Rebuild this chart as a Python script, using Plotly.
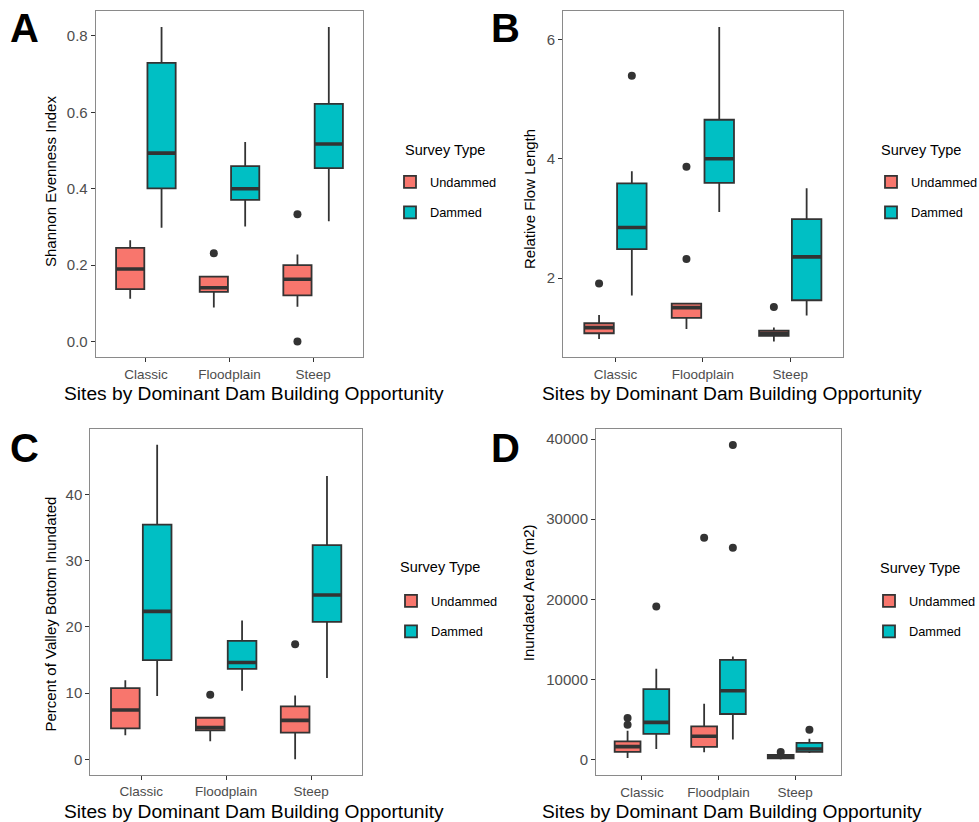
import plotly.graph_objects as go

# ---------------------------------------------------------------- data
CATEGORIES = ["Classic", "Floodplain", "Steep"]
SERIES = ["Undammed", "Dammed"]
COLORS = {"Undammed": "#F8766D", "Dammed": "#00BFC4"}

# A: Shannon evenness
A_UND_LOW = [0.112, 0.089, 0.091]
A_UND_Q1 = [0.137, 0.130, 0.121]
A_UND_MED = [0.190, 0.141, 0.163]
A_UND_Q3 = [0.245, 0.170, 0.200]
A_UND_HIGH = [0.265, 0.170, 0.228]
A_UND_OUT = [[], [0.231], [0.333, 0.0]]
A_DAM_LOW = [0.298, 0.301, 0.315]
A_DAM_Q1 = [0.401, 0.371, 0.454]
A_DAM_MED = [0.493, 0.400, 0.517]
A_DAM_Q3 = [0.729, 0.459, 0.622]
A_DAM_HIGH = [0.823, 0.522, 0.823]
A_DAM_OUT = [[], [], []]

# B: relative flow length
B_UND_LOW = [0.983, 1.150, 0.939]
B_UND_Q1 = [1.078, 1.335, 1.034]
B_UND_MED = [1.173, 1.508, 1.078]
B_UND_Q3 = [1.246, 1.575, 1.123]
B_UND_HIGH = [1.385, 1.575, 1.173]
B_UND_OUT = [[1.91], [3.866, 2.324], [1.52]]
B_DAM_LOW = [1.71, 3.11, 1.374]
B_DAM_Q1 = [2.486, 3.598, 1.631]
B_DAM_MED = [2.849, 4.0, 2.358]
B_DAM_Q3 = [3.587, 4.654, 2.989]
B_DAM_HIGH = [3.79, 6.207, 3.508]
B_DAM_OUT = [[5.39], [], []]

# C: percent of valley bottom inundated
C_UND_LOW = [3.61, 2.71, 0.0]
C_UND_Q1 = [4.67, 4.37, 4.02]
C_UND_MED = [7.43, 4.77, 5.87]
C_UND_Q3 = [10.74, 6.27, 7.98]
C_UND_HIGH = [11.94, 6.27, 9.64]
C_UND_OUT = [[], [9.74], [17.37]]
C_DAM_LOW = [9.54, 10.34, 12.25]
C_DAM_Q1 = [14.96, 13.65, 20.73]
C_DAM_MED = [22.33, 14.6, 24.79]
C_DAM_Q3 = [35.43, 17.87, 32.32]
C_DAM_HIGH = [47.48, 20.93, 42.76]
C_DAM_OUT = [[], [], []]

# D: inundated area (m2)
D_UND_LOW = [207, 913, 0]
D_UND_Q1 = [954, 1577, 166]
D_UND_MED = [1618, 2905, 373]
D_UND_Q3 = [2282, 4149, 581]
D_UND_HIGH = [3600, 6971, 700]
D_UND_OUT = [[4357, 5187], [27676], [954]]
D_DAM_LOW = [1328, 2490, 830]
D_DAM_Q1 = [3195, 5685, 954]
D_DAM_MED = [4647, 8589, 1328]
D_DAM_Q3 = [8797, 12448, 2075]
D_DAM_HIGH = [11328, 12863, 2614]
D_DAM_OUT = [[19087], [39253, 26432], [3734]]

PANELS = [
    dict(letter="A", ytitle="Shannon Evenness Index",
         und=(A_UND_LOW, A_UND_Q1, A_UND_MED, A_UND_Q3, A_UND_HIGH, A_UND_OUT),
         dam=(A_DAM_LOW, A_DAM_Q1, A_DAM_MED, A_DAM_Q3, A_DAM_HIGH, A_DAM_OUT)),
    dict(letter="B", ytitle="Relative Flow Length",
         und=(B_UND_LOW, B_UND_Q1, B_UND_MED, B_UND_Q3, B_UND_HIGH, B_UND_OUT),
         dam=(B_DAM_LOW, B_DAM_Q1, B_DAM_MED, B_DAM_Q3, B_DAM_HIGH, B_DAM_OUT)),
    dict(letter="C", ytitle="Percent of Valley Bottom Inundated",
         und=(C_UND_LOW, C_UND_Q1, C_UND_MED, C_UND_Q3, C_UND_HIGH, C_UND_OUT),
         dam=(C_DAM_LOW, C_DAM_Q1, C_DAM_MED, C_DAM_Q3, C_DAM_HIGH, C_DAM_OUT)),
    dict(letter="D", ytitle="Inundated Area (m2)",
         und=(D_UND_LOW, D_UND_Q1, D_UND_MED, D_UND_Q3, D_UND_HIGH, D_UND_OUT),
         dam=(D_DAM_LOW, D_DAM_Q1, D_DAM_MED, D_DAM_Q3, D_DAM_HIGH, D_DAM_OUT)),
]

# ---------------------------------------------------------------- layout geometry (pixels)
W, H = 979, 822
FONT = "Liberation Sans, Arial, sans-serif"

# plot-area rectangles [x0, x1, y0(top), y1(bottom)]
RECTS = [
    (95.7, 363.3, 11.3, 357.3),
    (563.0, 842.7, 11.3, 357.3),
    (90.3, 362.0, 429.0, 775.0),
    (596.0, 841.0, 429.3, 775.3),
]
YTICKS = [
    dict(tickvals=[0.0, 0.2, 0.4, 0.6, 0.8], tickformat=".1f"),
    dict(tickvals=[2, 4, 6], tickformat="d"),
    dict(tickvals=[0, 10, 20, 30, 40], tickformat="d"),
    dict(tickvals=[0, 10000, 20000, 30000, 40000], tickformat="d"),
]
LETTER_POS = [(8, 4), (489, 4), (8, 424), (489, 424)]
YTITLE_POS = [(50, 182), (530, 199), (49.5, 614), (528.7, 592.5)]
XTITLE_POS = [(254, 393), (732, 393), (254, 811), (732, 811)]
# legend: (left edge of entries, top of entries), legend heading centre
LEGEND_POS = [(390, 167), (871, 167), (391, 586), (869, 586)]
LEGEND_TITLE_POS = [(445, 150), (921, 150), (440, 567), (919.5, 568)]


def px_x(v):
    return v / W


def px_y(v):
    return 1 - v / H


def pad_range(values, frac=0.05):
    lo, hi = min(values), max(values)
    d = (hi - lo) * frac
    return [lo - d, hi + d]


def sample_lists(groups):
    # boxes without outliers still need a placeholder entry
    return [list(g) if g else [None] for g in groups]


fig = go.Figure()
annotations = []

for k, panel in enumerate(PANELS):
    n = "" if k == 0 else str(k + 1)
    xa, ya = "x" + n, "y" + n
    legend_name = "legend" + n
    all_vals = []
    for name, stats in (("Undammed", panel["und"]), ("Dammed", panel["dam"])):
        low, q1, med, q3, high, out = stats
        all_vals += list(low) + list(high) + [v for o in out for v in o]
        fig.add_trace(go.Box(
            x=CATEGORIES, y=sample_lists(out),
            q1=q1, median=med, q3=q3, lowerfence=low, upperfence=high,
            name=name, legendgroup=name + n, legend=legend_name,
            offsetgroup=name, fillcolor=COLORS[name],
            line=dict(color="#333333", width=1.8),
            boxpoints="outliers", jitter=0, pointpos=0,
            marker=dict(color="#333333", size=8, line=dict(width=0)),
            whiskerwidth=0, xaxis=xa, yaxis=ya, hoverinfo="skip",
        ))
        # thicker median bar drawn over the box
        fig.add_trace(go.Box(
            x=CATEGORIES, q1=med, median=med, q3=med,
            lowerfence=med, upperfence=med,
            name=name, offsetgroup=name, showlegend=False,
            fillcolor="rgba(0,0,0,0)",
            line=dict(color="#333333", width=3.6),
            boxpoints=False, whiskerwidth=0,
            xaxis=xa, yaxis=ya, hoverinfo="skip",
        ))

    x0, x1, y0, y1 = RECTS[k]
    axis_common = dict(
        showline=True, mirror=True, linecolor="#8a8a8a", linewidth=1,
        ticks="outside", ticklen=4, tickwidth=1, tickcolor="#333333",
        showgrid=False, zeroline=False,
    )
    fig.update_layout(**{
        "xaxis" + n: dict(
            axis_common, domain=[px_x(x0), px_x(x1)], anchor=ya,
            type="category", categoryorder="array", categoryarray=CATEGORIES,
            range=[-0.6, 2.6],
            tickfont=dict(family=FONT, size=13.5, color="#4D4D4D"),
        ),
        "yaxis" + n: dict(
            axis_common, domain=[px_y(y1), px_y(y0)], anchor=xa,
            range=pad_range(all_vals), **YTICKS[k],
            tickfont=dict(family=FONT, size=15, color="#4D4D4D"),
        ),
    })

    lx, ly = LEGEND_POS[k]
    fig.update_layout(**{legend_name: dict(
        x=px_x(lx), y=px_y(ly), xanchor="left", yanchor="top",
        font=dict(family=FONT, size=12.8, color="#000000"),
        bgcolor="rgba(0,0,0,0)", itemwidth=30,
        traceorder="grouped", tracegroupgap=11,
    )})
    tx, ty = LEGEND_TITLE_POS[k]
    annotations.append(dict(
        text="Survey Type", xref="paper", yref="paper",
        x=px_x(tx), y=px_y(ty), xanchor="center", yanchor="middle",
        showarrow=False, font=dict(family=FONT, size=14.5, color="#000000"),
    ))

    ltx, lty = LETTER_POS[k]
    annotations.append(dict(
        text="<b>%s</b>" % panel["letter"], xref="paper", yref="paper",
        x=px_x(ltx), y=px_y(lty), xanchor="left", yanchor="top",
        showarrow=False, font=dict(family=FONT, size=40, color="#000000"),
    ))
    tx, ty = YTITLE_POS[k]
    annotations.append(dict(
        text=panel["ytitle"], xref="paper", yref="paper",
        x=px_x(tx), y=px_y(ty), xanchor="center", yanchor="middle",
        textangle=-90, showarrow=False,
        font=dict(family=FONT, size=15, color="#000000"),
    ))
    tx, ty = XTITLE_POS[k]
    annotations.append(dict(
        text="Sites by Dominant Dam Building Opportunity", xref="paper", yref="paper",
        x=px_x(tx), y=px_y(ty), xanchor="center", yanchor="middle",
        showarrow=False, font=dict(family=FONT, size=19.2, color="#000000"),
    ))

fig.update_layout(
    width=W, height=H, autosize=False,
    # legends sit near the right edge; keep them from pushing the margins
    margin=dict(l=0, r=0, t=0, b=0, autoexpand=False),
    paper_bgcolor="white", plot_bgcolor="white",
    boxmode="group", boxgap=0.25, boxgroupgap=0.1,
    annotations=annotations,
    font=dict(family=FONT),
)

# fixed-size page: no body margin, no scrollbars, no auto-resizing
fig.write_html(
    "out.html",
    config={"responsive": False},
    post_script="document.body.style.margin='0';document.body.style.overflow='hidden';",
)
